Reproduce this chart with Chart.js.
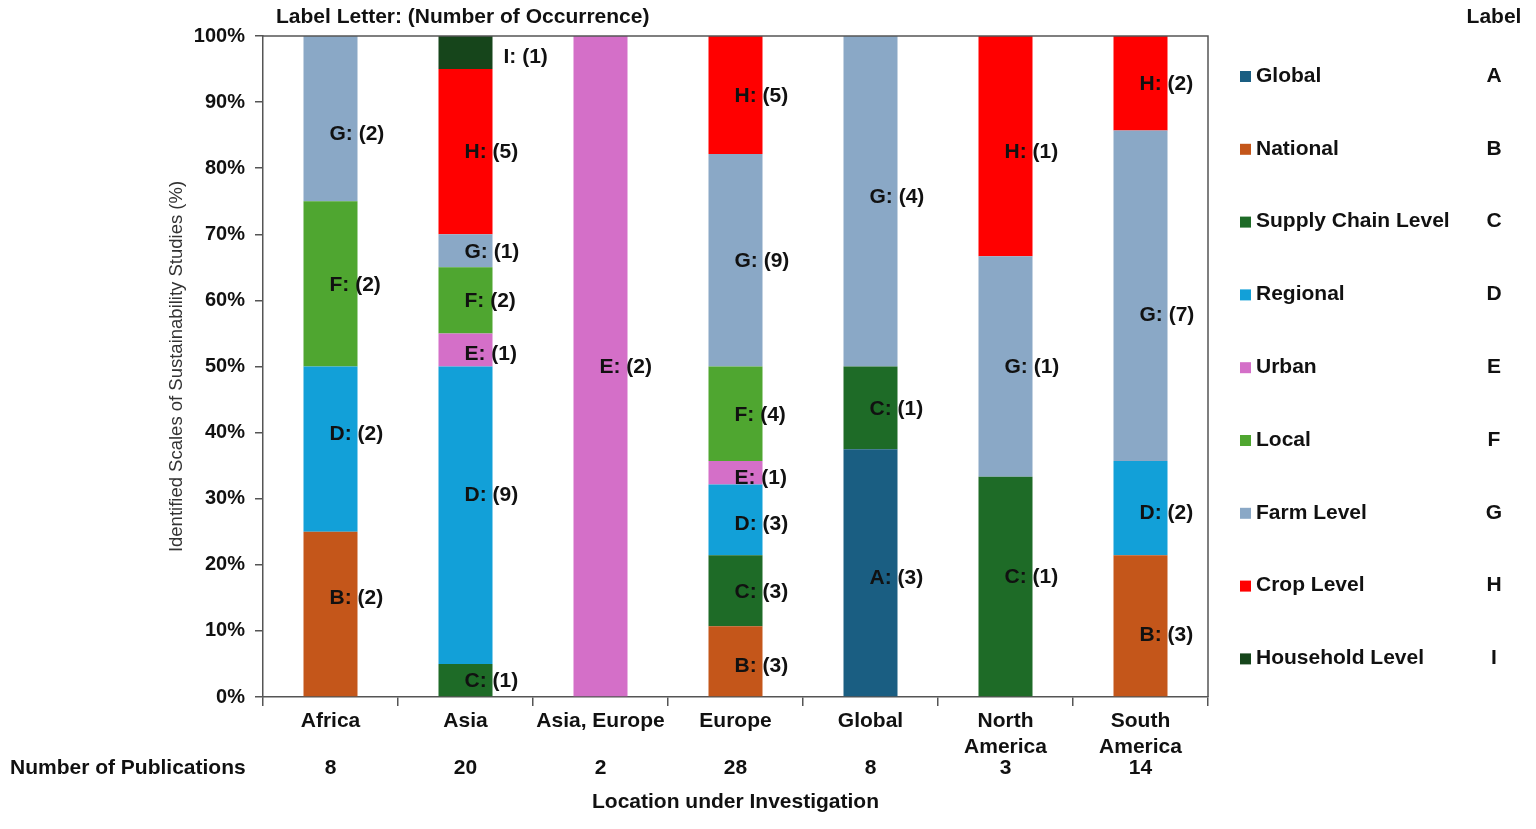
<!DOCTYPE html>
<html>
<head>
<meta charset="utf-8">
<script src="https://cdn.jsdelivr.net/npm/chart.js@4.4.1/dist/chart.umd.min.js"></script>
<style>
  body { margin: 0; background: #fff; }
  #wrap { width: 1536px; height: 829px; position: relative; }
</style>
</head>
<body>
<div id="wrap"><canvas id="scales"></canvas></div>
<script>
const locations = ['Africa', 'Asia', 'Asia, Europe', 'Europe', 'Global', ['North', 'America'], ['South', 'America']];
const publications = [8, 20, 2, 28, 8, 3, 14];

const scaleNames = ['Global', 'National', 'Supply Chain Level', 'Regional', 'Urban', 'Local', 'Farm Level', 'Crop Level', 'Household Level'];
const scaleLetters = ['A', 'B', 'C', 'D', 'E', 'F', 'G', 'H', 'I'];
const scaleColors = ['#1a5e82', '#c4561a', '#1e6b27', '#12a0d8', '#d46fc8', '#4fa630', '#8aa8c6', '#ff0000', '#16451b'];

// number of occurrences per location, one array per scale
const globalCounts    = [0, 0, 0, 0, 3, 0, 0];
const nationalCounts  = [2, 0, 0, 3, 0, 0, 3];
const supplyCounts    = [0, 1, 0, 3, 1, 1, 0];
const regionalCounts  = [2, 9, 0, 3, 0, 0, 2];
const urbanCounts     = [0, 1, 2, 1, 0, 0, 0];
const localCounts     = [2, 2, 0, 4, 0, 0, 0];
const farmCounts      = [2, 1, 0, 9, 4, 1, 7];
const cropCounts      = [0, 5, 0, 5, 0, 1, 2];
const householdCounts = [0, 1, 0, 0, 0, 0, 0];

const yTicks = [0, 10, 20, 30, 40, 50, 60, 70, 80, 90, 100];

const counts = [globalCounts, nationalCounts, supplyCounts, regionalCounts, urbanCounts,
                localCounts, farmCounts, cropCounts, householdCounts];

const FONT = '"Liberation Sans", Arial, sans-serif';

const datasets = counts.map((c, i) => ({
  label: scaleNames[i],
  letter: scaleLetters[i],
  counts: c,
  data: c.map((v, j) => v / publications[j] * 100),
  backgroundColor: scaleColors[i],
  borderWidth: 0,
  categoryPercentage: 1,
  barPercentage: 0.4
}));

// hand-placed labels in the original: [dx, dy] keyed "dataset-index"
const labelShift = {
  '8-1': [39, 4],
  '6-0': [0, 15], '3-0': [0, -16], '1-0': [0, -17],
  '3-1': [0, -21], '4-1': [0, 3],
  '6-4': [0, -5], '0-4': [0, 5],
  '7-5': [0, 5], '2-5': [0, -10],
  '6-6': [0, 19], '1-6': [0, 8], '3-6': [0, 4],
  '1-3': [0, 4], '4-3': [0, 4], '3-3': [0, 3]
};

const extras = {
  id: 'extras',
  afterDatasetsDraw(chart) {
    const ctx = chart.ctx;
    const area = chart.chartArea;
    const x = chart.scales.x;

    ctx.save();
    // frame
    ctx.strokeStyle = '#555';
    ctx.lineWidth = 1.5;
    ctx.beginPath();
    ctx.moveTo(area.left, area.top);
    ctx.lineTo(area.right, area.top);
    ctx.lineTo(area.right, area.bottom);
    ctx.stroke();

    // value labels
    ctx.fillStyle = '#111';
    ctx.font = 'bold 21px ' + FONT;
    ctx.textAlign = 'left';
    ctx.textBaseline = 'middle';
    chart.data.datasets.forEach((ds, i) => {
      chart.getDatasetMeta(i).data.forEach((bar, j) => {
        if (!ds.counts[j]) return;
        const shift = labelShift[i + '-' + j] || [0, 0];
        const yMid = (bar.y + bar.base) / 2;
        ctx.fillText(ds.letter + ': (' + ds.counts[j] + ')', bar.x - 1 + shift[0], yMid + 1 + shift[1]);
      });
    });

    // title above plot
    ctx.fillStyle = '#111';
    ctx.textAlign = 'left';
    ctx.fillText('Label Letter: (Number of Occurrence)', 276, 17);

    // number of publications row
    ctx.textAlign = 'left';
    ctx.fillText('Number of Publications', 10, 768);
    ctx.textAlign = 'center';
    publications.forEach((p, j) => {
      ctx.fillText(String(p), x.getPixelForValue(j), 768);
    });
    ctx.fillText('Location under Investigation', (area.left + area.right) / 2, 802);

    // y axis title
    ctx.save();
    ctx.translate(177, (area.top + area.bottom) / 2);
    ctx.rotate(-Math.PI / 2);
    ctx.font = '18.5px ' + FONT;
    ctx.fillStyle = '#333';
    ctx.fillText('Identified Scales of Sustainability Studies (%)', 0, 0);
    ctx.restore();

    // legend with letters
    ctx.font = 'bold 21px ' + FONT;
    ctx.textAlign = 'center';
    ctx.fillText('Label', 1494, 17);
    chart.data.datasets.forEach((ds, i) => {
      const y = 76 + i * 72.8;
      ctx.fillStyle = ds.backgroundColor;
      ctx.fillRect(1240, y - 5, 11, 11);
      ctx.fillStyle = '#111';
      ctx.textAlign = 'left';
      ctx.fillText(ds.label, 1256, y);
      ctx.textAlign = 'center';
      ctx.fillText(ds.letter, 1494, y);
    });
    ctx.restore();
  }
};

new Chart(document.getElementById('scales'), {
  type: 'bar',
  data: { labels: locations, datasets: datasets },
  plugins: [extras],
  options: {
    responsive: true,
    maintainAspectRatio: false,
    animation: false,
    layout: { padding: { top: 36, right: 328, left: 0, bottom: 0 } },
    plugins: {
      legend: { display: false },
      tooltip: { enabled: false }
    },
    scales: {
      x: {
        stacked: true,
        afterFit(scale) { scale.height = 132; },
        grid: { drawOnChartArea: false, offset: true, tickLength: 9, color: '#555', lineWidth: 1.5 },
        border: { color: '#555', width: 1.5 },
        ticks: { color: '#111', font: { family: FONT, size: 21, weight: 'bold' }, padding: 3, maxRotation: 0 }
      },
      y: {
        stacked: true,
        min: 0,
        max: 100,
        afterFit(scale) { scale.width = 263; },
        afterBuildTicks(scale) { scale.ticks = yTicks.map(v => ({ value: v })); },
        grid: { drawOnChartArea: false, tickLength: 8, color: '#555', lineWidth: 1.5 },
        border: { color: '#555', width: 1.5 },
        ticks: {
          color: '#111',
          padding: 10,
          font: { family: FONT, size: 20, weight: 'bold' },
          callback: v => v + '%'
        }
      }
    }
  }
});
</script>
</body>
</html>
